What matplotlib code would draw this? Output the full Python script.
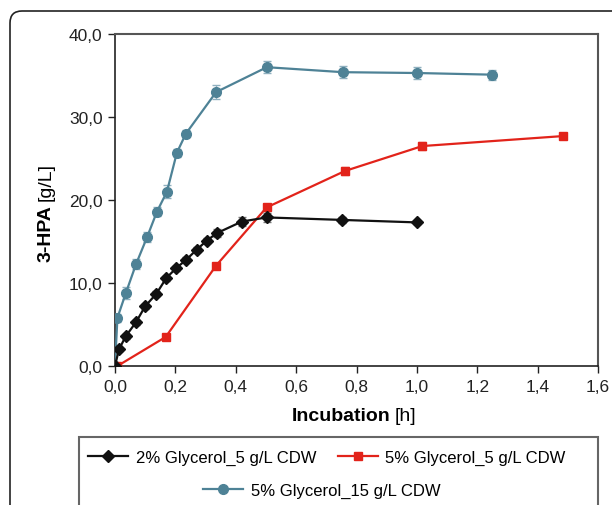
import matplotlib
matplotlib.use("Agg")
import matplotlib.pyplot as plt
from matplotlib.lines import Line2D
from matplotlib.patches import FancyBboxPatch, Rectangle
from matplotlib.ticker import FuncFormatter

plt.rcParams['font.family'] = ['Liberation Sans', 'DejaVu Sans']

# 2% Glycerol_5 g/L CDW
t_black = [0, 0.013, 0.036, 0.07, 0.1, 0.137, 0.17, 0.203, 0.236, 0.27, 0.304, 0.337, 0.42, 0.502, 0.753, 1.0]
y_black = [0.0, 2.0, 3.6, 5.3, 7.2, 8.7, 10.6, 11.8, 12.8, 14.0, 15.1, 16.0, 17.4, 17.9, 17.6, 17.3]
e_black = [0, 0.2, 0.3, 0.3, 0.3, 0.3, 0.3, 0.3, 0.3, 0.3, 0.3, 0.5, 0.5, 0.5, 0.4, 0.2]

# 5% Glycerol_5 g/L CDW
t_red = [0.008, 0.168, 0.335, 0.502, 0.762, 1.018, 1.483]
y_red = [0.0, 3.5, 12.1, 19.1, 23.5, 26.5, 27.7]
e_red = [0, 0.3, 0.3, 0.4, 0.5, 0.5, 0.2]

# 5% Glycerol_15 g/L CDW
t_blue = [0, 0.008, 0.036, 0.07, 0.106, 0.139, 0.172, 0.205, 0.235, 0.335, 0.503, 0.755, 1.0, 1.249]
y_blue = [0.0, 5.8, 8.8, 12.3, 15.5, 18.6, 21.0, 25.7, 28.0, 33.0, 36.0, 35.4, 35.3, 35.1]
e_blue = [0, 0.5, 0.7, 0.6, 0.6, 0.5, 0.8, 0.5, 0.4, 0.8, 0.7, 0.7, 0.7, 0.6]

labels = ['2% Glycerol_5 g/L CDW', '5% Glycerol_5 g/L CDW', '5% Glycerol_15 g/L CDW']

fig = plt.figure(figsize=(6.12, 5.06), dpi=100)
ax = fig.add_axes([115 / 612, 1 - 367 / 506, 483 / 612, 332 / 506])

c_black, c_red, c_blue = '#111111', '#e2231a', '#4e8296'

ax.errorbar(t_blue, y_blue, yerr=e_blue, color=c_blue, ecolor='#8fb0bf', elinewidth=1,
            capsize=3, marker='o', ms=7, lw=1.6, zorder=3)
ax.errorbar(t_red, y_red, yerr=e_red, color=c_red, ecolor='#f08a84', elinewidth=1,
            capsize=3, marker='s', ms=5.5, lw=1.6, zorder=4)
ax.errorbar(t_black, y_black, yerr=e_black, color=c_black, ecolor='#777777', elinewidth=1,
            capsize=3, marker='D', ms=6.5, lw=1.6, zorder=5)

ax.set_xlim(0, 1.6)
ax.set_ylim(0, 40)
ax.set_xticks([0, 0.2, 0.4, 0.6, 0.8, 1.0, 1.2, 1.4, 1.6])
ax.set_yticks([0, 10, 20, 30, 40])
fmt = FuncFormatter(lambda v, p: f'{v:.1f}'.replace('.', ','))
ax.xaxis.set_major_formatter(fmt)
ax.yaxis.set_major_formatter(fmt)
ax.tick_params(labelsize=12.5, length=5, width=1, colors='#222222', pad=4)
for s in ['top', 'right']:
    ax.spines[s].set_color('#555555')
    ax.spines[s].set_linewidth(1.5)
for s in ['left', 'bottom']:
    ax.spines[s].set_color('#222222')
    ax.spines[s].set_linewidth(1.2)

# axis labels: bold part + normal part
fig.canvas.draw()
r = fig.canvas.get_renderer()
tx1 = fig.text(292 / 612, 1 - 417 / 506, 'Incubation', fontsize=14, fontweight='bold',
               ha='left', va='center')
bb = tx1.get_window_extent(r)
fig.text((bb.x1 + 4) / 612, 1 - 417 / 506, '[h]', fontsize=14, ha='left', va='center')

ty1 = fig.text(46 / 612, 1 - 262 / 506, '3-HPA', fontsize=14, fontweight='bold',
               rotation=90, ha='center', va='bottom')
bb = ty1.get_window_extent(r)
fig.text(46 / 612, (bb.y1 + 4) / 506, '[g/L]', fontsize=14, rotation=90, ha='center', va='bottom')

# outer rounded frame
fig.patches.append(FancyBboxPatch((10, -40), 650, 534, boxstyle='round,pad=0,rounding_size=12',
                                  transform=None, fill=False, ec='#222222', lw=1.2))
# legend box
fig.patches.append(Rectangle((79 / 612, -0.05), 519 / 612, 1 - 438 / 506 + 0.05,
                             transform=fig.transFigure, fill=False, ec='#666666', lw=1.5))

h_black = Line2D([], [], color=c_black, marker='D', ms=6.5, lw=1.6)
h_red = Line2D([], [], color=c_red, marker='s', ms=5.5, lw=1.6)
h_blue = Line2D([], [], color=c_blue, marker='o', ms=7, lw=1.6)

fig.legend([h_black, h_red], labels[:2], ncol=2, frameon=False, fontsize=12,
           loc='center', bbox_to_anchor=(327 / 612, 1 - 458 / 506),
           handlelength=2.4, handletextpad=0.45, columnspacing=1.3)
fig.legend([h_blue], labels[2:], frameon=False, fontsize=12,
           loc='center', bbox_to_anchor=(322 / 612, 1 - 491 / 506),
           handlelength=2.4, handletextpad=0.45)

fig.savefig('out.png', dpi=100)
